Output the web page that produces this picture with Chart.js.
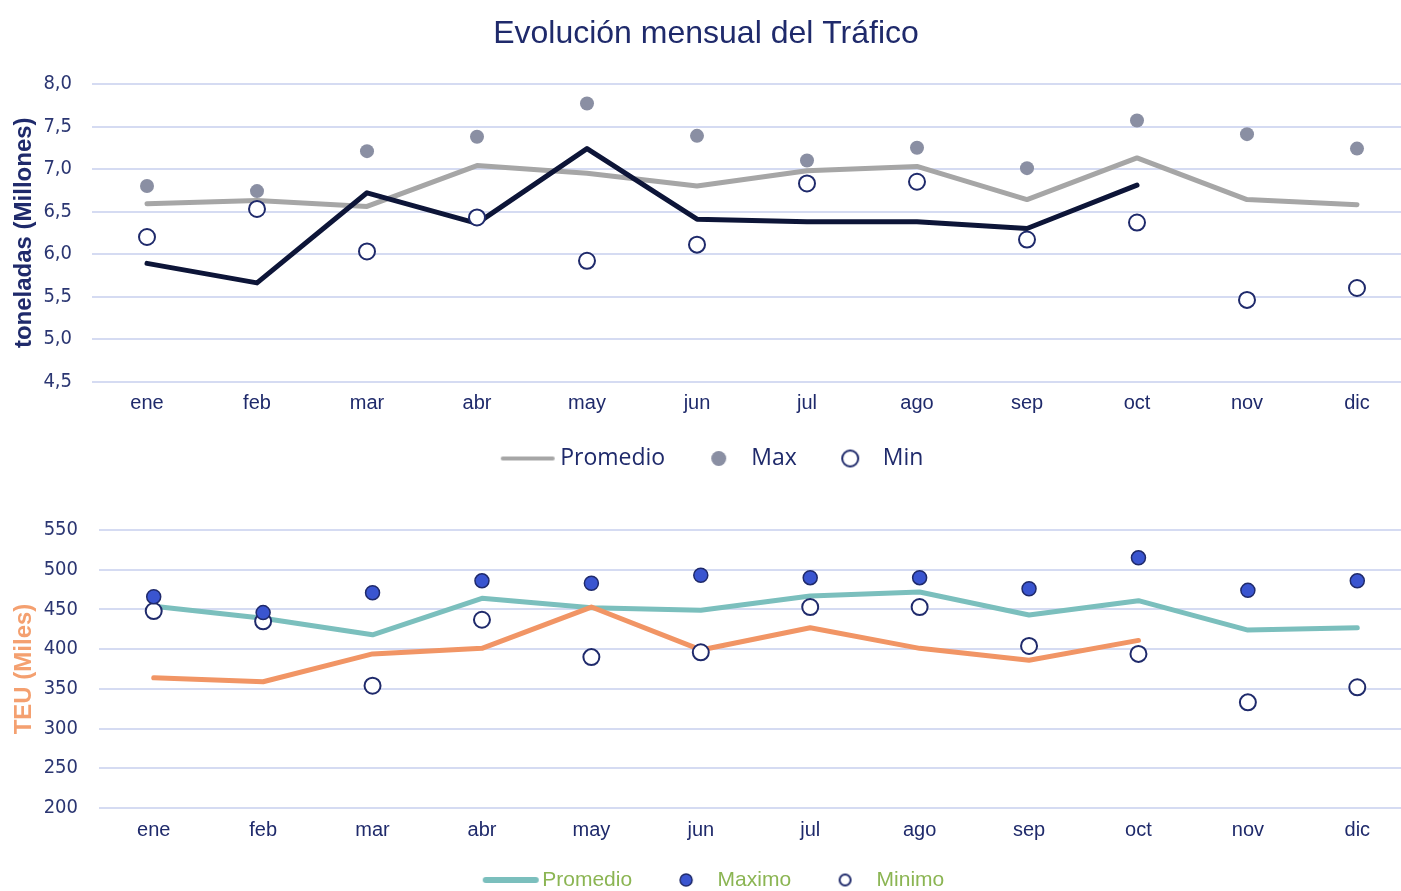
<!DOCTYPE html>
<html>
<head>
<meta charset="utf-8">
<script src="https://cdn.jsdelivr.net/npm/chart.js@4"></script>
<style>
  html, body { margin: 0; padding: 0; overflow: hidden; background: #fff; width: 1412px; height: 891px; }
  #top { position: absolute; left: 0; top: 0; width: 1412px; height: 480px; }
  #bottom { position: absolute; left: 0; top: 470px; width: 1412px; height: 435px; }
</style>
</head>
<body>
<canvas id="top" width="1412" height="480"></canvas>
<canvas id="bottom" width="1412" height="435"></canvas>
<script>
// months
const meses = ["ene", "feb", "mar", "abr", "may", "jun", "jul", "ago", "sep", "oct", "nov", "dic"];

// tonnage (millions)
const tonPromedio = [6.59, 6.63, 6.56, 7.04, 6.95, 6.80, 6.98, 7.03, 6.64, 7.13, 6.64, 6.58];
const tonActual = [5.89, 5.66, 6.72, 6.36, 7.24, 6.41, 6.38, 6.38, 6.30, 6.81, null, null];
const tonMax = [6.80, 6.74, 7.21, 7.38, 7.77, 7.39, 7.10, 7.25, 7.01, 7.57, 7.41, 7.24];
const tonMin = [6.20, 6.53, 6.03, 6.43, 5.92, 6.11, 6.83, 6.85, 6.17, 6.37, 5.46, 5.60];

// TEU (thousands)
const teuPromedio = [454, 439, 418, 464, 452, 449, 467, 472, 443, 461, 424, 427];
const teuActual = [364, 359, 394, 401, 453, 399, 427, 401, 386, 411, null, null];
const teuMax = [466, 446, 471, 486, 483, 493, 490, 490, 476, 515, 474, 486];
const teuMin = [448, 435, 354, 437, 390, 396, 453, 453, 404, 394, 333, 352];

const navy = "#1f2a6b";
const tickFont = { family: "'Liberation Sans Narrow', 'DejaVu Sans Condensed', sans-serif", size: 20 };
const labelFont = { family: "'Liberation Sans', Arial, sans-serif", size: 20, lineHeight: 1 };

// small canvases used as legend markers
function marker(w, h, draw) {
  const c = document.createElement("canvas");
  c.width = w; c.height = h;
  draw(c.getContext("2d"));
  return c;
}
function lineMarker(color, width) {
  return marker(58, 8, ctx => {
    ctx.strokeStyle = color; ctx.lineWidth = width; ctx.lineCap = "round";
    ctx.beginPath(); ctx.moveTo(4, 4); ctx.lineTo(54, 4); ctx.stroke();
  });
}
function dotMarker(r, fill, stroke, bw) {
  const s = Math.ceil(r * 2 + bw + 2);
  return marker(s, s, ctx => {
    ctx.beginPath(); ctx.arc(s / 2, s / 2, r, 0, Math.PI * 2);
    ctx.fillStyle = fill; ctx.fill();
    if (bw) { ctx.lineWidth = bw; ctx.strokeStyle = stroke; ctx.stroke(); }
  });
}

// nudge the legend box after layout (the reference legend is a bit off-centre)
const legendNudge = {
  id: "legendNudge",
  afterLayout(chart, args, o) {
    const lg = chart.legend;
    if (!lg) return;
    lg.left += o.dx || 0; lg.right += o.dx || 0;
    lg.top += o.dy || 0; lg.bottom += o.dy || 0;
  }
};

function buildChart(id, opts) {
  return new Chart(document.getElementById(id), {
    type: "line",
    data: {
      labels: meses,
      datasets: [
        { label: "Max", data: opts.max, showLine: false, pointRadius: opts.maxR, pointHoverRadius: opts.maxR,
          pointBackgroundColor: opts.maxColor, pointBorderColor: opts.maxBorder, pointBorderWidth: opts.maxBW, order: 1 },
        { label: "Min", data: opts.min, showLine: false, pointRadius: 8, pointHoverRadius: 8,
          pointBackgroundColor: "#ffffff", pointBorderColor: navy, pointBorderWidth: 2, order: 2 },
        { label: "Actual", data: opts.actual, borderColor: opts.actualColor, borderWidth: 5, pointRadius: 0,
          borderCapStyle: "round", borderJoinStyle: "round", spanGaps: false, order: 3 },
        { label: "Promedio", data: opts.prom, borderColor: opts.promColor, borderWidth: 5, pointRadius: 0,
          borderCapStyle: "round", borderJoinStyle: "round", order: 4 }
      ]
    },
    plugins: [legendNudge],
    options: {
      responsive: false,
      animation: false,
      layout: { autoPadding: false, padding: { top: opts.padTop, bottom: 0, left: 0, right: 0 } },
      plugins: {
        legendNudge: { dx: opts.legendDx, dy: opts.legendDy },
        title: opts.title ? {
          display: true, text: opts.title, color: navy,
          font: { family: "'Liberation Sans', Arial, sans-serif", size: 32, weight: "normal" },
          padding: { top: 15, bottom: 30.6 }
        } : { display: false },
        tooltip: { enabled: false },
        legend: {
          position: "bottom",
          labels: {
            usePointStyle: true,
            pointStyleWidth: opts.legendBox,
            padding: opts.legendPad,
            color: opts.legendColor,
            font: opts.legendFont,
            generateLabels: () => opts.legendItems.map((it, i) => ({
              text: it.text, pointStyle: it.marker, fillStyle: "transparent", strokeStyle: "transparent",
              lineWidth: 0, hidden: false, datasetIndex: i, fontColor: opts.legendColor
            }))
          }
        }
      },
      scales: {
        x: {
          offset: true,
          afterFit: s => { s.height = 33; },
          grid: { display: false, drawTicks: false },
          border: { display: false },
          ticks: { color: navy, font: labelFont, padding: 12, maxRotation: 0 }
        },
        y: {
          min: opts.yMin, max: opts.yMax,
          afterFit: s => { s.width = opts.yWidth; },
          grid: { color: "#d5dbf2", lineWidth: 2, drawTicks: false },
          border: { display: false },
          ticks: { stepSize: opts.step, color: "#2b3672", font: tickFont, padding: opts.tickPad,
                   callback: opts.tickFmt },
          title: { display: true, text: opts.yTitle, color: opts.yTitleColor,
                   font: { family: "'Liberation Sans', Arial, sans-serif", size: 24, weight: "bold" },
                   padding: { top: 10, bottom: 0 } }
        }
      }
    }
  });
}

buildChart("top", {
  title: "Evolución mensual del Tráfico",
  padTop: 0,
  prom: tonPromedio, actual: tonActual, max: tonMax, min: tonMin,
  promColor: "#a6a6a6", actualColor: "#0d1538",
  maxColor: "#8a8fa3", maxBorder: "#8a8fa3", maxBW: 0, maxR: 7,
  yMin: 4.5, yMax: 8.0, step: 0.5, yWidth: 92, tickPad: 20,
  tickFmt: v => v.toFixed(1).replace(".", ","),
  yTitle: "toneladas (Millones)", yTitleColor: navy,
  legendColor: navy, legendBox: 42, legendPad: 32.5, legendDx: 9, legendDy: 0,
  legendFont: { family: "'Open Sans', 'Noto Sans', sans-serif", size: 23 },
  legendItems: [
    { text: "Promedio", marker: lineMarker("#a6a6a6", 4) },
    { text: "Max", marker: dotMarker(7.5, "#8a8fa3", null, 0) },
    { text: "Min", marker: dotMarker(8, "#ffffff", navy, 2) }
  ]
});

buildChart("bottom", {
  title: null,
  padTop: 60,
  prom: teuPromedio, actual: teuActual, max: teuMax, min: teuMin,
  promColor: "#7bbfbd", actualColor: "#f19565",
  maxColor: "#3a55d0", maxBorder: navy, maxBW: 1.5, maxR: 7,
  yMin: 200, yMax: 550, step: 50, yWidth: 99, tickPad: 21,
  tickFmt: v => String(v),
  yTitle: "TEU (Miles)", yTitleColor: "#f4a070",
  legendColor: "#8bb553", legendBox: 42, legendPad: 33, legendDx: 11, legendDy: -4.5,
  legendFont: { family: "'Liberation Sans', Arial, sans-serif", size: 21 },
  legendItems: [
    { text: "Promedio", marker: lineMarker("#7bbfbd", 6) },
    { text: "Maximo", marker: dotMarker(6, "#3a55d0", navy, 1.5) },
    { text: "Minimo", marker: dotMarker(5.5, "#ffffff", navy, 2) }
  ]
});
</script>
</body>
</html>
